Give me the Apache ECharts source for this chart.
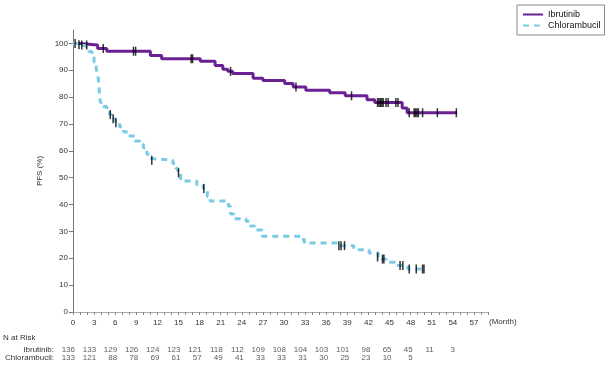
<!DOCTYPE html>
<html><head><meta charset="utf-8">
<script src="https://cdn.jsdelivr.net/npm/echarts@6/dist/echarts.min.js"></script>
<style>html,body{margin:0;padding:0;background:#fff}#c{width:608px;height:365px}</style>
</head><body><div id="c"></div>
<script>
const ibrutinibSteps = [[0,100],[1.0,99.4],[3.5,98.1],[4.8,97.1],[11.0,95.5],[12.6,94.3],[18.1,93.4],[20.2,91.8],[21.3,90.4],[22.0,89.6],[22.7,88.8],[25.6,87.0],[27.0,86.2],[30.1,85.1],[31.3,83.8],[33.1,82.6],[36.5,81.6],[38.7,80.5],[41.8,79.0],[42.9,78.0],[46.8,76.0],[47.5,74.2],[54.6,74.2]];
const ibrutinibCensored = [[0.3,100],[0.85,99.5],[1.25,99.4],[1.95,99.4],[4.3,98.1],[8.6,97.1],[8.9,97.1],[16.8,94.3],[17.0,94.3],[22.4,89.6],[31.7,83.8],[39.6,80.5],[43.3,78],[43.5,78],[43.7,78],[43.9,78],[44.1,78],[44.5,78],[44.8,78],[45.9,78],[46.2,78],[47.8,74.2],[48.5,74.2],[48.7,74.2],[48.9,74.2],[49.1,74.2],[49.7,74.2],[51.8,74.2],[54.5,74.2]];
const chlorambucilSteps = [[0,100],[1.0,99.2],[1.7,98.5],[2.2,97],[2.7,95.4],[3.0,93],[3.3,90.5],[3.55,88],[3.7,84],[3.8,80.5],[3.9,78],[4.3,76.5],[4.8,75.2],[5.2,73.5],[5.6,72],[6.0,70.5],[6.6,69],[7.2,67],[7.8,65.5],[8.8,63.7],[9.5,62.5],[10.0,61.2],[10.5,58.7],[10.9,57.2],[11.1,56.5],[14.2,55.3],[14.6,53.5],[14.9,51.8],[15.3,48.8],[17.6,47.4],[18.5,46.0],[19.1,43.0],[19.5,41.3],[22.1,39.4],[22.4,36.5],[22.9,34.7],[24.6,33.8],[25.2,32.0],[25.8,30.5],[26.9,28.2],[32.4,27.0],[32.9,25.7],[37.8,24.7],[39.9,23.2],[42.1,22.0],[43.4,20.5],[43.9,19.7],[44.5,18.5],[45.8,17.3],[47.6,16.0],[50.0,16.0]];
const chlorambucilCensored = [[5.3,73.5],[5.7,72],[6.1,70.5],[11.2,56.5],[15.0,51.8],[18.6,46.0],[37.8,24.7],[38.1,24.7],[38.6,24.7],[43.3,20.5],[44.0,19.7],[44.2,19.7],[46.5,17.3],[46.9,17.3],[47.8,16],[48.8,16],[49.7,16],[49.9,16]];
const riskMonths = [0,3,6,9,12,15,18,21,24,27,30,33,36,39,42,45,48,51,54];
const ibrutinibAtRisk = [136,133,129,126,124,123,121,118,112,109,108,104,103,101,98,65,45,11,3];
const chlorambucilAtRisk = [133,121,88,78,69,61,57,49,41,33,33,31,30,25,23,10,5];
const xLabelValues = [0,3,6,9,12,15,18,21,24,27,30,33,36,39,42,45,48,51,54,57];
const xTickValues = Array.from({length:60},(_,i)=>i);
const yLabelValues = [0,10,20,30,40,50,60,70,80,90,100];
const rowNames = ['Ibrutinib:','Chlorambucil:'];

const FONT = 'Liberation Sans';
const chart = echarts.init(document.getElementById('c'), null, {renderer:'canvas'});
const riskData = [];
ibrutinibAtRisk.forEach((n,i)=>riskData.push([riskMonths[i], rowNames[0], n]));
chlorambucilAtRisk.forEach((n,i)=>riskData.push([riskMonths[i], rowNames[1], n]));

chart.setOption({
  animation:false,
  backgroundColor:'#fff',
  textStyle:{fontFamily:FONT},
  graphic:[{type:'text', left:3, top:334, style:{text:'N at Risk', fill:'#333', font:'8px "Liberation Sans"'}}],
  legend:{
    orient:'vertical', left:517, top:5, padding:[5,4,5,5], itemGap:2, itemWidth:20, itemHeight:8,
    borderColor:'#888', borderWidth:1, borderRadius:0,
    itemStyle:{opacity:0},
    textStyle:{fontSize:9, color:'#111', fontFamily:FONT, padding:[0,0,0,0]},
    data:['Ibrutinib','Chlorambucil']
  },
  grid:[
    {left:73, right:120, top:30, bottom:53},
    {left:73, right:120, top:346, height:16}
  ],
  xAxis:[
    {type:'value', gridIndex:0, min:0, max:59, interval:1,
     name:'(Month)', nameLocation:'end', nameGap:1,
     nameTextStyle:{fontSize:8, color:'#333', align:'left', verticalAlign:'top', padding:[6,0,0,0]},
     axisLine:{lineStyle:{color:'#aaa', width:1}},
     axisTick:{show:true, length:3, customValues:xTickValues, lineStyle:{color:'#888'}},
     axisLabel:{fontSize:8, color:'#333', margin:7, customValues:xLabelValues},
     splitLine:{show:false}},
    {type:'value', gridIndex:1, min:0, max:59, show:false}
  ],
  yAxis:[
    {type:'value', gridIndex:0, min:0, max:105,
     name:'PFS (%)', nameLocation:'middle', nameRotate:90, nameGap:26,
     nameTextStyle:{fontSize:8, color:'#333'},
     axisLine:{show:true, lineStyle:{color:'#777', width:1}},
     axisTick:{show:true, length:4, customValues:yLabelValues, lineStyle:{color:'#777'}},
     axisLabel:{fontSize:8, color:'#333', margin:5, customValues:yLabelValues},
     splitLine:{show:false}},
    {type:'category', gridIndex:1, data:rowNames, inverse:true,
     axisLine:{show:false}, axisTick:{show:false},
     axisLabel:{fontSize:8, color:'#333', margin:19, interval:0}}
  ],
  series:[
    {name:'Ibrutinib', type:'line', step:'end', xAxisIndex:0, yAxisIndex:0, data:ibrutinibSteps,
     symbol:'none', lineStyle:{color:'#6b2193', width:3}, itemStyle:{color:'#6b2193'}, z:2},
    {name:'Chlorambucil', type:'line', step:'end', xAxisIndex:0, yAxisIndex:0, data:chlorambucilSteps,
     symbol:'none', lineStyle:{color:'#7ccbe6', width:3, type:[6,5]}, itemStyle:{color:'#7ccbe6'}, z:3},
    {name:'censI', type:'scatter', xAxisIndex:0, yAxisIndex:0, data:ibrutinibCensored,
     symbol:'rect', symbolSize:[1.5,9], itemStyle:{color:'#000'}, z:5},
    {name:'censC', type:'scatter', xAxisIndex:0, yAxisIndex:0, data:chlorambucilCensored,
     symbol:'rect', symbolSize:[1.5,9], itemStyle:{color:'#000'}, z:5},
    {name:'risk', type:'scatter', xAxisIndex:1, yAxisIndex:1, data:riskData,
     symbolSize:0, itemStyle:{color:'transparent'},
     label:{show:true, position:'inside', align:'right', offset:[2,0], fontSize:8, color:'#333',
       formatter:p=>String(p.value[2])}}
  ]
});
</script></body></html>
